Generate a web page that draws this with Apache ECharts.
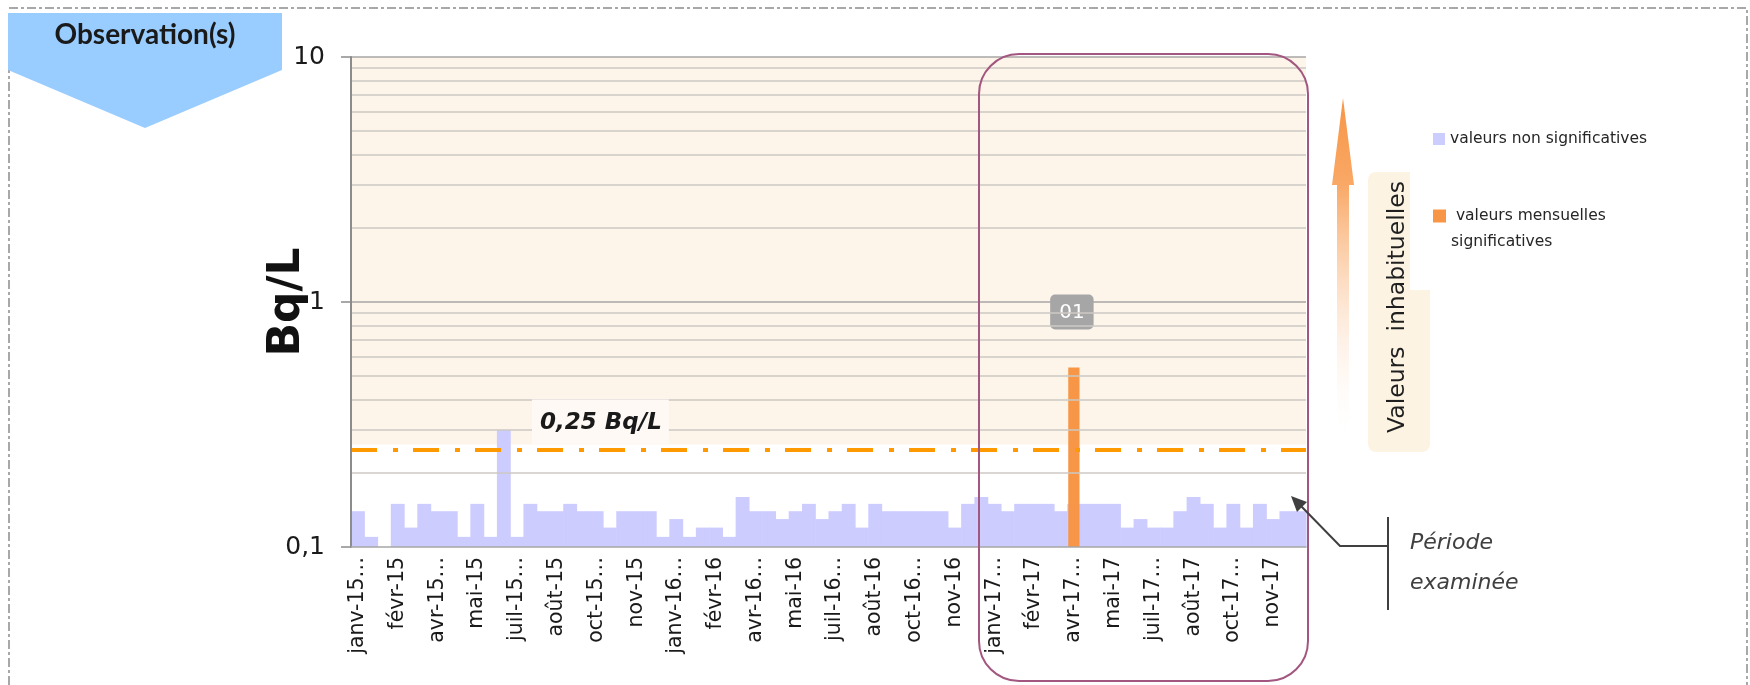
<!DOCTYPE html>
<html>
<head>
<meta charset="utf-8">
<title>Observation(s)</title>
<script src="https://cdn.jsdelivr.net/npm/echarts@6/dist/echarts.min.js"></script>
<style>
  html, body { margin: 0; padding: 0; background: #fff; }
  #chart { width: 1750px; height: 685px; }
</style>
</head>
<body>
<div id="chart"></div>
<script>
// half-month periods, jan 2015 -> dec 2017
const months = ['janv', 'févr', 'mars', 'avr', 'mai', 'juin', 'juil', 'août', 'sept', 'oct', 'nov', 'déc'];
const years = ['15', '16', '17'];

// labels shown every 3rd period
const tickLabels = [
  'janv-15…', 'févr-15', 'avr-15…', 'mai-15', 'juil-15…', 'août-15', 'oct-15…', 'nov-15',
  'janv-16…', 'févr-16', 'avr-16…', 'mai-16', 'juil-16…', 'août-16', 'oct-16…', 'nov-16',
  'janv-17…', 'févr-17', 'avr-17…', 'mai-17', 'juil-17…', 'août-17', 'oct-17…', 'nov-17'
];

// valeurs non significatives (Bq/L)
const lowValues = [
  0.14, 0.11, 0.10, 0.15, 0.12, 0.15, 0.14, 0.14, 0.11, 0.15, 0.11, 0.30,
  0.11, 0.15, 0.14, 0.14, 0.15, 0.14, 0.14, 0.12, 0.14, 0.14, 0.14, 0.11,
  0.13, 0.11, 0.12, 0.12, 0.11, 0.16, 0.14, 0.14, 0.13, 0.14, 0.15, 0.13,
  0.14, 0.15, 0.12, 0.15, 0.14, 0.14, 0.14, 0.14, 0.14, 0.12, 0.15, 0.16,
  0.15, 0.14, 0.15, 0.15, 0.15, 0.14, 0.15, 0.15, 0.15, 0.15, 0.12, 0.13,
  0.12, 0.12, 0.14, 0.16, 0.15, 0.12, 0.15, 0.12, 0.15, 0.13, 0.14, 0.14
];

// valeurs mensuelles significatives
const signifIndex = [54];
const signifValues = [0.54];
const signifLabels = ['01'];

const threshold = 0.25;
const thresholdLabel = '0,25 Bq/L';
const unusualFrom = 0.262;

const yMin = 0.1;
const yMax = 10;
const majorGrid = [1, 10];
const minorGrid = [0.2, 0.3, 0.4, 0.5, 0.6, 0.7, 0.8, 0.9, 2, 3, 4, 5, 6, 7, 8, 9];

const categories = [];
years.forEach(function (y) {
  months.forEach(function (m) {
    categories.push(m + '-' + y + ' 1');
    categories.push(m + '-' + y + ' 2');
  });
});

const FONT = '"DejaVu Sans", sans-serif';

let chartDom = document.getElementById('chart');
let myChart = echarts.init(chartDom);
let option;

function barItem(params, api, ratio) {
  const v = api.value(1);
  if (v == null || isNaN(v)) return null;
  const top = api.coord([api.value(0), v]);
  const base = api.coord([api.value(0), yMin]);
  const w = api.size([1, 0])[0] * ratio;
  return {
    type: 'rect',
    shape: { x: top[0] - w / 2, y: top[1], width: w, height: base[1] - top[1] },
    style: { fill: api.visual('color') }
  };
}

const gridLines = majorGrid.map(function (v) {
  return { yAxis: v, lineStyle: { color: '#a6a6a6', width: 1.5, type: 'solid' } };
}).concat(minorGrid.map(function (v) {
  return { yAxis: v, lineStyle: { color: '#cdc8c4', width: 1.5, type: 'solid' } };
}));

const arrowGradient = new echarts.graphic.LinearGradient(0, 0, 0, 1, [
  { offset: 0, color: '#f79646' },
  { offset: 0.25, color: '#f9a866' },
  { offset: 1, color: 'rgba(255,255,255,0)' }
]);

option = {
  animation: false,
  backgroundColor: '#ffffff',
  grid: { left: 351, right: 444, top: 57, bottom: 138 },
  legend: [
    {
      data: ['valeurs non significatives'],
      left: 1433, top: 131, padding: 0,
      icon: 'rect', itemWidth: 12, itemHeight: 12,
      textStyle: { fontFamily: FONT, fontSize: 15.5, color: '#262626' }
    },
    {
      data: ['valeurs mensuelles significatives'],
      left: 1433, top: 177, padding: 0,
      icon: 'rect', itemWidth: 13, itemHeight: 13,
      formatter: function () { return '\n valeurs mensuelles\nsignificatives'; },
      textStyle: { fontFamily: FONT, fontSize: 15.5, color: '#262626', lineHeight: 26 }
    }
  ],
  xAxis: {
    type: 'category',
    data: categories,
    z: 10,
    axisLine: { lineStyle: { color: '#a6a6a6', width: 1.5 } },
    axisTick: { interval: 0, length: 7, lineStyle: { color: '#8c8c8c' } },
    axisLabel: {
      interval: 0,
      rotate: 90,
      margin: 10,
      fontFamily: FONT,
      fontSize: 20.5,
      color: '#1a1a1a',
      formatter: function (val, idx) {
        return idx % 3 === 0 ? tickLabels[idx / 3] : '';
      }
    },
    splitLine: { show: false }
  },
  yAxis: {
    type: 'log',
    logBase: 10,
    min: yMin,
    max: yMax,
    z: 10,
    name: 'Bq/L',
    nameLocation: 'middle',
    nameGap: 41,
    nameMoveOverlap: false,
    nameRotate: 90,
    nameTextStyle: { fontFamily: FONT, fontWeight: 'bold', fontSize: 44, color: '#111' },
    axisLine: { show: true, lineStyle: { color: '#8c8c8c', width: 2 } },
    axisTick: { show: true, length: 10, lineStyle: { color: '#8c8c8c', width: 1.5 } },
    axisLabel: {
      margin: 26,
      fontFamily: FONT,
      fontSize: 25,
      color: '#1a1a1a',
      formatter: function (v) { return String(+v.toPrecision(3)).replace('.', ','); }
    },
    splitLine: { show: false }
  },
  series: [
    {
      name: 'ref',
      type: 'line',
      data: [],
      z: 1,
      silent: true,
      markArea: {
        silent: true,
        itemStyle: { color: '#fdf4ea' },
        data: [[{ yAxis: unusualFrom }, { yAxis: yMax }]]
      },
      markLine: {
        silent: true,
        symbol: 'none',
        label: { show: false },
        data: gridLines
      }
    },
    {
      name: 'valeurs non significatives',
      type: 'custom',
      z: 3,
      itemStyle: { color: '#ccccff' },
      encode: { x: 0, y: 1 },
      data: lowValues.map(function (v, i) { return [i, v]; }),
      renderItem: function (params, api) {
        const el = barItem(params, api, 1);
        if (el) el.shape.width += 0.6;
        return el;
      }
    },
    {
      name: 'valeurs mensuelles significatives',
      type: 'custom',
      z: 4,
      itemStyle: { color: '#f79646' },
      encode: { x: 0, y: 1 },
      data: signifIndex.map(function (i, k) { return [i, signifValues[k]]; }),
      renderItem: function (params, api) {
        const bar = barItem(params, api, 0.85);
        if (!bar) return null;
        const cx = bar.shape.x + bar.shape.width / 2;
        return {
          type: 'group',
          children: [
            bar,
            {
              type: 'text',
              x: cx - 2,
              y: bar.shape.y - 38,
              style: {
                text: signifLabels[params.dataIndex],
                fill: '#ffffff',
                font: '20px ' + FONT,
                align: 'center',
                verticalAlign: 'bottom',
                backgroundColor: '#a6a6a6',
                padding: [8, 9, 7, 9],
                borderRadius: 5
              }
            }
          ]
        };
      }
    },
    {
      name: 'seuil',
      type: 'line',
      data: [],
      z: 5,
      silent: true,
      markLine: {
        silent: true,
        symbol: 'none',
        data: [{
          yAxis: threshold,
          lineStyle: { color: '#ff9900', width: 4, type: [26, 16, 5, 15] },
          label: {
            show: true,
            formatter: thresholdLabel,
            position: 'insideStartTop',
            distance: [181, 5],
            fontFamily: FONT,
            fontStyle: 'italic',
            fontWeight: 'bold',
            fontSize: 23,
            color: '#1a1a1a',
            backgroundColor: '#fef9f4',
            padding: [12, 7, 10, 8]
          }
        }]
      }
    }
  ],
  graphic: [
    // dashed frame
    {
      type: 'polyline', z: 20,
      shape: { points: [[9, 685], [9, 70]] },
      style: { stroke: '#8c8c8c', lineWidth: 1.5, lineDash: [9, 3, 3, 3], fill: null }
    },
    {
      type: 'polyline', z: 20,
      shape: { points: [[9, 8], [1747, 8], [1747, 685]] },
      style: { stroke: '#8c8c8c', lineWidth: 1.5, lineDash: [9, 3, 3, 3], fill: null }
    },
    // title tag
    {
      type: 'polygon', z: 20,
      shape: { points: [[8, 13], [282, 13], [282, 70], [145, 128], [8, 70]] },
      style: { fill: '#99ccff' }
    },
    {
      type: 'text', z: 21, x: 145, y: 35,
      style: { text: 'Observation(s)', font: 'bold 28px Lato, sans-serif', fill: '#1a1a1a', align: 'center', verticalAlign: 'middle' }
    },
    // examined period frame
    {
      type: 'rect', z: 20,
      shape: { x: 979, y: 54, width: 329, height: 627, r: 40 },
      style: { fill: null, stroke: '#a3567f', lineWidth: 2 }
    },
    // unusual values box + arrow
    {
      type: 'rect', z: 1,
      shape: { x: 1368, y: 172, width: 62, height: 280, r: 8 },
      style: { fill: '#fdf3e3' }
    },
    {
      type: 'rect', z: 2,
      shape: { x: 1410, y: 165, width: 24, height: 125 },
      style: { fill: '#ffffff' }
    },
    {
      type: 'text', z: 3, x: 1398, y: 307, rotation: Math.PI / 2,
      style: { text: 'Valeurs  inhabituelles', font: '23.5px ' + FONT, fill: '#1f1f1f', align: 'center', verticalAlign: 'middle' }
    },
    {
      type: 'polygon', z: 3,
      shape: { points: [[1343, 98], [1354, 185], [1349, 185], [1349, 445], [1337, 445], [1337, 185], [1332, 185]] },
      style: { fill: arrowGradient }
    },
    // "Période examinée" callout
    {
      type: 'polyline', z: 20,
      shape: { points: [[1388, 517], [1388, 610]] },
      style: { stroke: '#404040', lineWidth: 2, fill: null }
    },
    {
      type: 'polyline', z: 20,
      shape: { points: [[1388, 546], [1340, 546], [1300, 505]] },
      style: { stroke: '#404040', lineWidth: 2, fill: null }
    },
    {
      type: 'polygon', z: 20,
      shape: { points: [[1291, 496], [1307, 502], [1297, 512]] },
      style: { fill: '#404040' }
    },
    {
      type: 'text', z: 20, x: 1410, y: 543,
      style: { text: 'Période', font: 'italic 22px ' + FONT, fill: '#404040', verticalAlign: 'middle' }
    },
    {
      type: 'text', z: 20, x: 1410, y: 583,
      style: { text: 'examinée', font: 'italic 22px ' + FONT, fill: '#404040', verticalAlign: 'middle' }
    }
  ]
};

option && myChart.setOption(option);
</script>
</body>
</html>
